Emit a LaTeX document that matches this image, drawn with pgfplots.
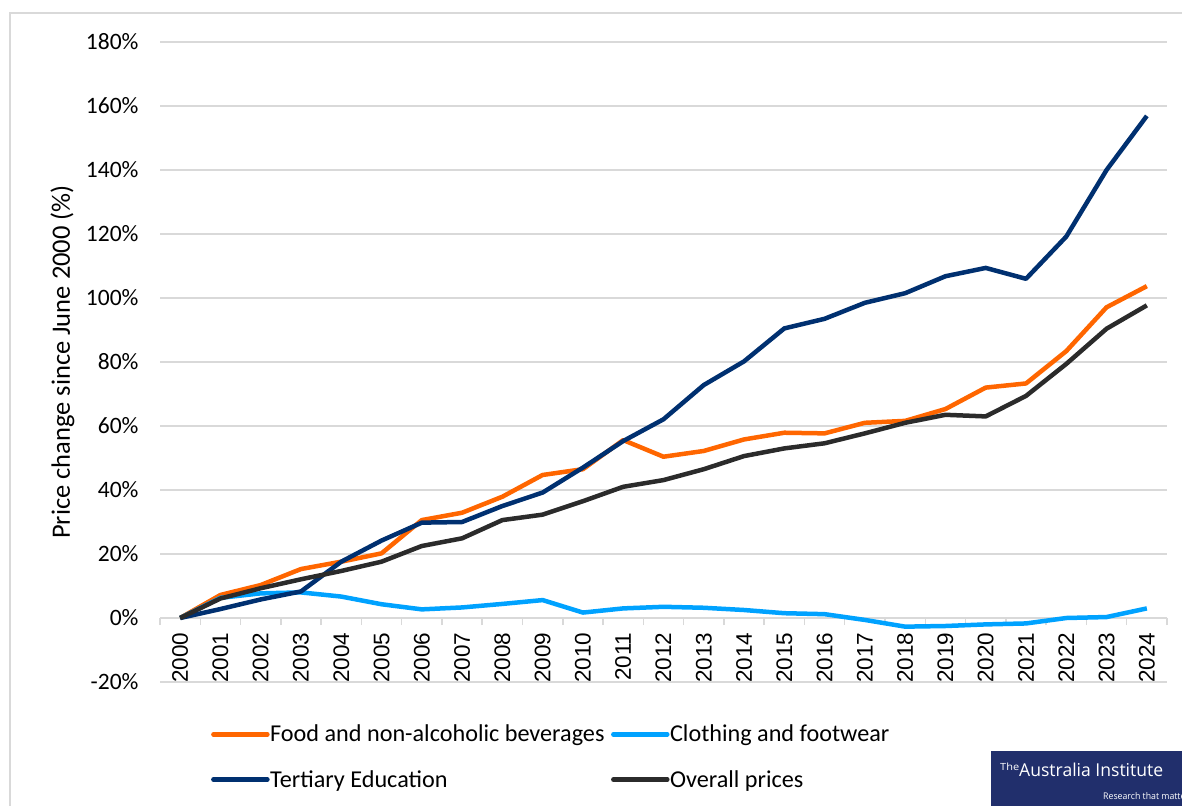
\documentclass[border=0pt]{standalone}
\usepackage{pgfplots}
\usepackage{pgfplotstable}
\pgfplotsset{compat=1.18}
\usepackage{fontspec}
\setmainfont{Carlito}
\newfontfamily\xfont{Liberation Sans}
\newfontfamily\logofont{Open Sans}

\definecolor{cfood}{RGB}{255,102,0}
\definecolor{ccloth}{RGB}{0,162,255}
\definecolor{ctert}{RGB}{0,48,112}
\definecolor{call}{RGB}{43,43,43}
\definecolor{gridgray}{RGB}{217,217,217}
\definecolor{logoblue}{RGB}{33,47,108}

\pgfplotstableread{
x food cloth tert overall
0 0 0 0 0
1 7.2 6.3 2.8 6.1
2 10.3 7.7 5.8 9.3
3 15.3 8.0 8.3 12.1
4 17.6 6.7 17.6 14.7
5 20.2 4.3 24.2 17.6
6 30.6 2.7 29.8 22.5
7 32.9 3.3 30.0 24.9
8 37.9 4.4 35.0 30.6
9 44.7 5.6 39.2 32.3
10 46.5 1.7 47.0 36.5
11 55.6 3.0 55.3 41.0
12 50.4 3.5 62.1 43.1
13 52.2 3.2 72.8 46.5
14 55.8 2.5 80.2 50.6
15 57.9 1.5 90.5 53.0
16 57.7 1.2 93.5 54.6
17 61.0 -0.6 98.5 57.7
18 61.6 -2.7 101.5 61.0
19 65.3 -2.5 106.8 63.5
20 72.0 -2.0 109.4 63.0
21 73.3 -1.7 106.0 69.4
22 83.4 0.0 119.2 79.4
23 97.1 0.3 140.0 90.4
24 103.7 3.0 156.9 97.7
}\datatable

\begin{document}
\begin{tikzpicture}
\useasboundingbox (0,0) rectangle (1182pt,-805pt);
\clip (0,0) rectangle (1182pt,-805pt);
\draw[gridgray, line width=1.5pt] (10pt,-13pt) rectangle (1230pt,-850pt);
\begin{axis}[
  at={(160pt,-682pt)}, anchor=south west,
  scale only axis, width=1007pt, height=640pt,
  xmin=-0.5, xmax=24.5, ymin=-20, ymax=180,
  axis x line=middle, axis y line=left,
  axis line style={-},
  x axis line style={draw=gridgray, line width=1.5pt},
  y axis line style={draw=none},
  hide obscured x ticks=false, hide obscured y ticks=false,
  xtick={0,...,24},
  xticklabels={2000,2001,2002,2003,2004,2005,2006,2007,2008,2009,2010,2011,2012,2013,2014,2015,2016,2017,2018,2019,2020,2021,2022,2023,2024},
  minor xtick={-0.5,0.5,...,24.5},
  major tick length=0pt, minor tick length=7pt,
  xtick align=outside, ytick align=inside,
  major x tick style={draw=none},
  minor x tick style={draw=gridgray, line width=1.5pt},
  major y tick style={draw=none},
  xticklabel shift=11pt,
  xticklabel style={rotate=90, anchor=east, font=\xfont\fontsize{22.5}{27}\selectfont},
  ytick={-20,0,...,180},
  yticklabel={\pgfmathprintnumber{\tick}\%},
  /pgf/number format/assume math mode=true,
  yticklabel style={anchor=east, font=\fontsize{23.5}{28}\selectfont, xshift=-18pt},
  ymajorgrids, xmajorgrids=false,
  grid style={draw=gridgray, line width=1.75pt},
  ylabel={Price change since June 2000 (\%)},
  ylabel style={at={(axis description cs:-0.0968,0.5)}, anchor=center, font=\fontsize{26.5}{32}\selectfont},
  legend columns=2,
  legend cell align=left,
  legend style={at={(axis description cs:0.0506,-0.064)}, anchor=north west, draw=none, fill=none,
    inner xsep=0pt, inner ysep=0pt, font=\fontsize{24.2}{29}\selectfont, row sep=23pt,
    nodes={inner xsep=0.5pt},
    /tikz/every even column/.append style={column sep=6pt}},
  legend image code/.code={\draw[#1, line cap=round] (0pt,0pt) -- (54pt,0pt);},
  every axis plot/.append style={line width=4.5pt, line join=round, mark=none},
]
\addplot[cfood] table[x=x, y=food] {\datatable};
\addlegendentry{Food and non-alcoholic beverages}
\addplot[ccloth] table[x=x, y=cloth] {\datatable};
\addlegendentry{Clothing and footwear}
\addplot[ctert] table[x=x, y=tert] {\datatable};
\addlegendentry{Tertiary Education}
\addplot[call] table[x=x, y=overall] {\datatable};
\addlegendentry{Overall prices}
\end{axis}
\fill[logoblue] (991pt,-751pt) rectangle (1230pt,-850pt);
\node[anchor=base west, inner sep=0pt, white] at (1000pt,-776pt) {\logofont\raisebox{5.5pt}{\resizebox{19pt}{7.5pt}{The}}\resizebox{144pt}{13.5pt}{Australia Institute}};
\node[anchor=base west, inner sep=0pt, white] at (1103pt,-799pt) {\logofont\resizebox{90pt}{7pt}{Research that matters}};
\end{tikzpicture}
\end{document}
